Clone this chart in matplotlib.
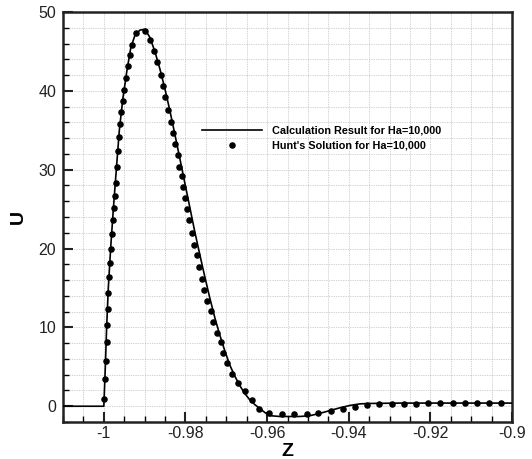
import matplotlib
matplotlib.use("Agg")
import matplotlib.pyplot as plt
from matplotlib.ticker import MultipleLocator, FixedLocator, FixedFormatter

plt.rcParams['font.family'] = ['Liberation Sans', 'DejaVu Sans']
plt.rcParams['axes.unicode_minus'] = False

# Calculation result (solid line)
calc_z = [-1.01, -1.0, -0.99985, -0.99963, -0.99931, -0.99890, -0.99833, -0.99767,
          -0.99694, -0.99620, -0.99534, -0.99436, -0.99338, -0.99240, -0.99118, -0.98995,
          -0.98873, -0.98750, -0.98627, -0.98505, -0.98382, -0.98260, -0.98137, -0.98015,
          -0.97892, -0.97770, -0.97647, -0.97525, -0.97402, -0.97279, -0.97157, -0.97034,
          -0.96912, -0.96789, -0.96667, -0.96544, -0.96422, -0.96299, -0.96176, -0.96054,
          -0.95931, -0.95686, -0.95196, -0.94951, -0.94706, -0.94461, -0.94216, -0.93971,
          -0.93725, -0.93480, -0.92745, -0.9]
calc_u = [0.0, 0.0, 2.0, 5.0, 10.0, 15.0, 20.0, 25.0,
          30.0, 35.0, 39.0, 42.5, 45.5, 47.0, 47.7, 47.8,
          46.8, 45.0, 42.8, 40.3, 37.5, 34.5, 31.4, 28.3,
          25.2, 22.1, 19.2, 16.4, 13.7, 11.2, 9.0, 7.0,
          5.2, 3.8, 2.6, 1.6, 0.8, 0.2, -0.3, -0.8,
          -1.2, -1.3, -1.3, -1.2, -0.9, -0.55, -0.2, 0.1,
          0.3, 0.35, 0.4, 0.4]

# Hunt's solution (dots)
hunt_z = [-0.99993, -0.99983, -0.99951, -0.99934, -0.99919, -0.99909, -0.99890, -0.99870,
          -0.99853, -0.99821, -0.99799, -0.99779, -0.99755, -0.99738, -0.99713, -0.99681,
          -0.99659, -0.99640, -0.99615, -0.99583, -0.99534, -0.99502, -0.99453, -0.99419,
          -0.99370, -0.99321, -0.99216, -0.98995,
          -0.98873, -0.98782, -0.98694, -0.98603, -0.98547, -0.98505, -0.98439, -0.98365,
          -0.98316, -0.98260, -0.98194, -0.98154, -0.98096, -0.98056, -0.98015, -0.97958,
          -0.97909, -0.97850, -0.97787, -0.97728, -0.97664, -0.97598, -0.97549, -0.97483,
          -0.97385, -0.97321, -0.97238, -0.97140, -0.97076, -0.96978, -0.96870, -0.96708,
          -0.96537, -0.96365, -0.96194, -0.95963,
          -0.95645, -0.95343, -0.95032, -0.94748, -0.94444, -0.94150, -0.93848, -0.93547,
          -0.93252, -0.92949, -0.92647, -0.92353, -0.92051, -0.91757, -0.91453, -0.91159,
          -0.90858, -0.90556, -0.90262]
hunt_u = [0.9, 3.4, 5.7, 8.1, 10.3, 12.3, 14.4, 16.4,
          18.2, 20.0, 21.8, 23.6, 25.2, 26.7, 28.3, 30.3,
          32.4, 34.1, 35.8, 37.3, 38.7, 40.1, 41.6, 43.1,
          44.5, 45.8, 47.3, 47.6,
          46.4, 45.1, 43.6, 42.0, 40.6, 39.2, 37.6, 36.0,
          34.6, 33.2, 31.8, 30.4, 29.2, 27.8, 26.4, 25.0,
          23.6, 22.0, 20.5, 19.2, 17.7, 16.2, 14.8, 13.4,
          12.1, 10.7, 9.3, 8.1, 6.8, 5.5, 4.1, 3.0,
          1.9, 0.8, -0.3, -0.9,
          -1.0, -1.0, -1.0, -0.8, -0.55, -0.3, -0.1, 0.15,
          0.25, 0.3, 0.3, 0.3, 0.35, 0.4, 0.45, 0.4,
          0.4, 0.4, 0.4]

x_ticks = [-1.0, -0.98, -0.96, -0.94, -0.92, -0.9]
x_tick_labels = ['-1', '-0.98', '-0.96', '-0.94', '-0.92', '-0.9']
y_ticks = [0, 10, 20, 30, 40, 50]
y_tick_labels = ['0', '10', '20', '30', '40', '50']

fig = plt.figure(figsize=(5.32, 4.59), dpi=100)
ax = fig.add_axes([63/532, 1-422/459, (512-63)/532, (422-12)/459])

ax.set_xlim(-1.01, -0.9)
ax.set_ylim(-2, 50)

ax.xaxis.set_major_locator(FixedLocator(x_ticks))
ax.xaxis.set_major_formatter(FixedFormatter(x_tick_labels))
ax.yaxis.set_major_locator(FixedLocator(y_ticks))
ax.yaxis.set_major_formatter(FixedFormatter(y_tick_labels))
ax.xaxis.set_minor_locator(MultipleLocator(0.005))
ax.yaxis.set_minor_locator(MultipleLocator(2))

for which in ('major', 'minor'):
    ax.grid(True, which=which, color='#e8e8e8', linewidth=1.0, linestyle='-', zorder=0)
ax.grid(True, which='both', color='#a8a8a8', linewidth=0.5, linestyle=(0, (1, 1.5)), zorder=0)
ax.set_axisbelow(True)

ax.tick_params(axis='both', which='major', direction='in', length=7, width=1.5,
               labelsize=11.5, colors='#222222', top=False, right=False)
ax.tick_params(axis='x', which='major', pad=3)
ax.tick_params(axis='y', which='major', pad=5)
ax.tick_params(axis='both', which='minor', direction='in', length=4, width=1.0,
               top=False, right=False)
for s in ax.spines.values():
    s.set_linewidth(1.8)
    s.set_color('#222222')

ax.plot(calc_z, calc_u, color='black', linewidth=1.2, label='Calculation Result for Ha=10,000', zorder=3)
ax.plot(hunt_z, hunt_u, linestyle='none', marker='o', markersize=3.7, color='black',
        label="Hunt's Solution for Ha=10,000", zorder=4)

ax.set_xlabel('Z', fontsize=14, fontweight='bold', labelpad=1)
ax.set_ylabel('U', fontsize=14, fontweight='bold', labelpad=8)

leg = ax.legend(loc='upper left', bbox_to_anchor=(0.309, 0.722), frameon=False,
                prop={'size': 7.8, 'weight': 'bold'}, handlelength=5.6, handletextpad=0.9,
                labelspacing=0.45, borderpad=0, borderaxespad=0)

fig.savefig('out.png', dpi=100)
